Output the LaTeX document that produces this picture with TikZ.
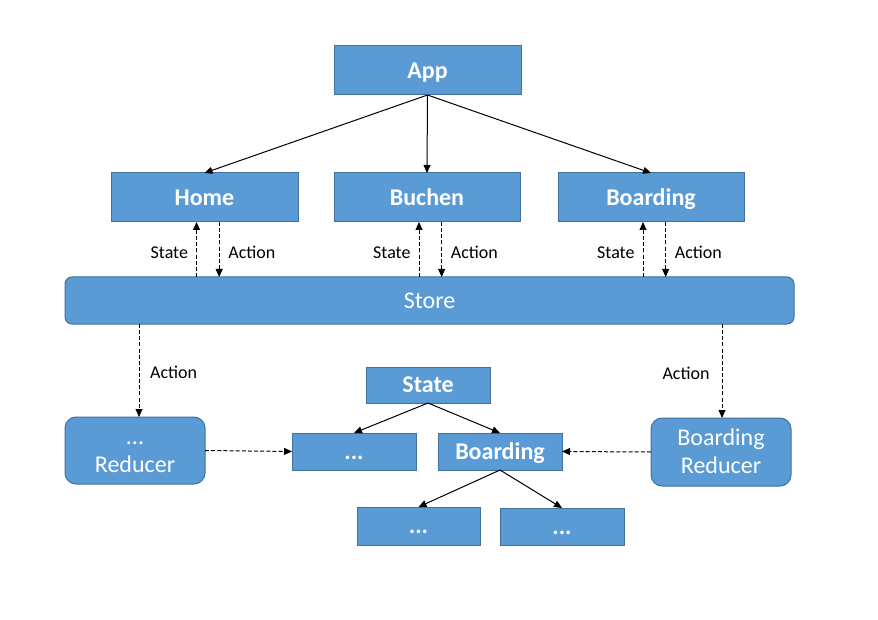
\documentclass[tikz,border=0pt]{standalone}
\usepackage{fontspec}
\setmainfont{Carlito}
\usetikzlibrary{arrows.meta,calc}
\definecolor{boxfill}{HTML}{5B9BD5}
\definecolor{boxline}{HTML}{41719C}
\tikzset{
  box/.style={draw=boxline, fill=boxfill, line width=0.75pt, inner sep=0pt, outer sep=0pt,
    text=white, font=\fontsize{18}{21}\selectfont\bfseries, align=center,
    text height=11.6pt, text depth=0pt},
  bw/.style={minimum width=#1*0.75pt},
  bh/.style={minimum height=#1*0.75pt},
  rbox/.style={box, font=\fontsize{18}{21}\selectfont, rounded corners=#1*0.75pt},
  twoline/.style={text height=32.6pt, text depth=0pt},
  conn/.style={draw=black, line width=0.75pt, -{Triangle[length=6pt,width=5.2pt]}},
  dasharrow/.style={conn, dash pattern=on 3pt off 1.6pt},
  lbl/.style={font=\fontsize{13.5}{15}\selectfont, inner sep=0pt, text=black,
    text height=8.7pt, text depth=0pt}
}
\begin{document}
\begin{tikzpicture}[x=0.75pt,y=-0.75pt]
\useasboundingbox (0,0) rectangle (878,620);
\fill[white] (0,0) rectangle (878,620);

\node[box, bw=187, bh=49] (app) at (427.5,70.5) {App};
\node[box, bw=187, bh=49] (home) at (204.5,197.5) {Home};
\node[box, bw=186, bh=49] (buchen) at (427,197.5) {Buchen};
\node[box, bw=186, bh=49] (boarding) at (651,197.5) {Boarding};
\node[rbox=7, bw=729, bh=47] (store) at (429.5,300.5) {Store};
\node[box, bw=124, bh=36] (state) at (428,385) {State};
\node[box, bw=124, bh=37] (dotsA) at (354,451.5) {...};
\node[box, bw=124, bh=37] (boardS) at (500,451.5) {Boarding};
\node[box, bw=123, bh=38] (dotsB) at (418.5,526) {...};
\node[box, bw=124, bh=37] (dotsC) at (562,526.5) {...};
\node[rbox=11, twoline, bw=140, bh=67] (redA) at (135,450.5) {...\\Reducer};
\node[rbox=11, twoline, bw=140, bh=68] (redB) at (721,452) {Boarding\\Reducer};

% App to pages
\draw[conn] (app.south) -- (home.north);
\draw[conn] (app.south) -- (buchen.north);
\draw[conn] (app.south) -- (boarding.north);

% State / Action between pages and store
\foreach \p/\n in {home/h, buchen/b, boarding/o}{
  \coordinate (\n s) at ([xshift=-6pt]\p.south);
  \coordinate (\n a) at ([xshift=11pt]\p.south);
  \draw[dasharrow] (\n s |- store.north) -- node[lbl, midway, left=6pt, yshift=-2.4pt] (\n sl) {State} (\n s);
  \draw[dasharrow] (\n a) -- node[lbl, midway, right=6.5pt, yshift=-2.4pt] (\n al) {Action} (\n a |- store.north);
}

% Store to reducers
\coordinate (ra) at ([xshift=3pt]redA.north);
\coordinate (rb) at ([xshift=0.75pt]redB.north);
\draw[dasharrow] (ra |- store.south) -- node[lbl, midway, right=8pt, yshift=-1.9pt] (ral) {Action} (ra);
\draw[dasharrow] (rb |- store.south) -- node[lbl, midway, left=9pt, yshift=-1.9pt] (rbl) {Action} (rb);

% Reducers to state parts
\draw[dasharrow] (redA.east) -- (dotsA.west);
\draw[dasharrow] (redB.west) -- (boardS.east);

% State tree
\draw[conn] (state.south) -- (dotsA.north);
\draw[conn] (state.south) -- (boardS.north);
\draw[conn] (boardS.south) -- (dotsB.north);
\draw[conn] (boardS.south) -- (dotsC.north);
\end{tikzpicture}
\end{document}
